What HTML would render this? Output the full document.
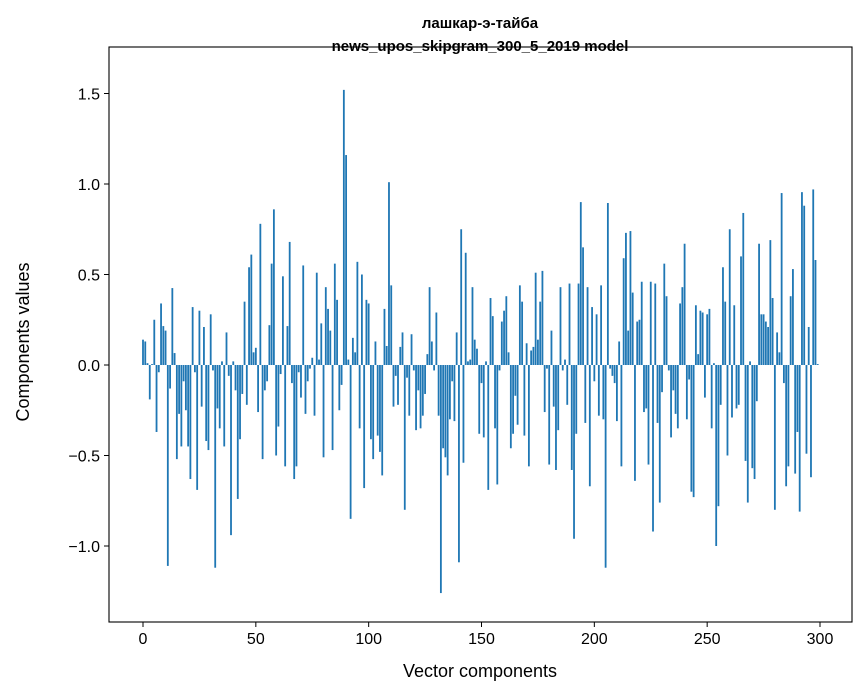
<!DOCTYPE html>
<html><head><meta charset="utf-8"><style>
html,body{margin:0;padding:0;background:#fff;}
svg{display:block;font-family:"Liberation Sans","DejaVu Sans",sans-serif;}
</style></head><body>
<svg id="chart" width="867" height="696" viewBox="0 0 867 696" xmlns="http://www.w3.org/2000/svg">
<rect width="867" height="696" fill="#fff"/>
<text x="480" y="28" text-anchor="middle" font-size="15" font-weight="bold">лашкар-э-тайба</text>
<text x="480" y="51" text-anchor="middle" font-size="15" font-weight="bold">news_upos_skipgram_300_5_2019 model</text>
<g id="bars"></g>
<g id="axes"></g>
<text x="480" y="677" text-anchor="middle" font-size="18">Vector components</text>
<text transform="translate(29,342) rotate(-90)" text-anchor="middle" font-size="18">Components values</text>
</svg>
<script>
const values = [
0.14,0.13,0.01,-0.19,0.005,0.25,-0.37,-0.04,0.34,0.215,0.19,-1.11,-0.13,0.425,0.066,-0.52,-0.27,-0.45,-0.09,-0.25,
-0.45,-0.63,0.32,-0.04,-0.69,0.30,-0.23,0.21,-0.42,-0.47,0.28,-0.03,-1.12,-0.24,-0.35,0.02,-0.45,0.18,-0.06,-0.94,
0.02,-0.14,-0.74,-0.41,-0.16,0.35,-0.22,0.54,0.61,0.07,0.095,-0.26,0.78,-0.52,-0.14,-0.09,0.22,0.56,0.86,-0.50,
-0.34,-0.05,0.49,-0.56,0.215,0.68,-0.10,-0.63,-0.56,-0.04,-0.18,0.55,-0.27,-0.09,-0.02,0.04,-0.28,0.51,0.03,0.23,
-0.51,0.43,0.31,0.19,-0.47,0.56,0.36,-0.25,-0.11,1.52,1.16,0.03,-0.85,0.15,0.07,0.57,-0.35,0.50,-0.68,0.36,
0.34,-0.41,-0.52,0.13,-0.39,-0.48,-0.61,0.31,0.105,1.01,0.44,-0.23,-0.06,-0.22,0.10,0.18,-0.80,-0.07,-0.28,0.17,
-0.03,-0.36,-0.14,-0.35,-0.28,-0.16,0.06,0.43,0.13,-0.03,0.29,-0.28,-1.26,-0.46,-0.51,-0.61,-0.30,-0.09,-0.31,0.18,
-1.09,0.75,-0.54,0.62,0.02,0.03,0.43,0.14,0.09,-0.38,-0.10,-0.40,0.02,-0.69,0.37,0.27,-0.35,-0.66,-0.03,0.24,
0.30,0.38,0.07,-0.46,-0.38,-0.17,-0.33,0.44,0.35,-0.39,0.12,-0.56,0.08,0.10,0.51,0.14,0.35,0.52,-0.26,-0.02,
-0.55,0.19,-0.23,-0.58,-0.36,0.43,-0.03,0.03,-0.22,0.45,-0.58,-0.96,-0.38,0.45,0.90,0.65,-0.32,0.43,-0.67,0.32,
-0.09,0.28,-0.28,0.44,-0.30,-1.12,0.895,-0.02,-0.06,-0.10,-0.31,0.13,-0.56,0.59,0.73,0.19,0.74,0.40,-0.64,0.24,
0.25,0.46,-0.26,-0.24,-0.55,0.46,-0.92,0.45,-0.32,-0.76,-0.15,0.56,0.38,-0.03,-0.40,-0.14,-0.27,-0.35,0.34,0.43,
0.67,-0.30,-0.08,-0.70,-0.73,0.33,0.06,0.30,0.29,-0.18,0.28,0.31,-0.35,0.01,-1.0,-0.78,-0.22,0.54,0.35,-0.50,
0.75,-0.29,0.33,-0.24,-0.22,0.60,0.84,-0.53,-0.76,0.02,-0.57,-0.63,-0.20,0.67,0.28,0.28,0.24,0.21,0.69,0.37,
-0.80,0.18,0.07,0.95,-0.10,-0.67,-0.56,0.38,0.53,-0.60,-0.37,-0.81,0.955,0.88,-0.49,0.21,-0.62,0.97,0.58,0.005
];
const xTicks = [0,50,100,150,200,250,300];
const yTicks = [-1.0,-0.5,0.0,0.5,1.0,1.5];
const yTickLabels = ["\u22121.0","\u22120.5","0.0","0.5","1.0","1.5"];

const NS = "http://www.w3.org/2000/svg";
const L = 109, R = 852, T = 47, B = 622;
const xScale = v => 143 + (820 - 143) * v / 300;
const yScale = v => 365 - 181 * v;
const bw = 0.8 * (xScale(1) - xScale(0));

const barsG = document.getElementById('bars');
values.forEach((v, i) => {
  const r = document.createElementNS(NS, 'rect');
  const y0 = yScale(0), y1 = yScale(v);
  r.setAttribute('x', xScale(i) - bw / 2);
  r.setAttribute('y', Math.min(y0, y1));
  r.setAttribute('width', bw);
  r.setAttribute('height', Math.max(Math.abs(y1 - y0), 0.3));
  r.setAttribute('fill', '#1f77b4');
  
  
  barsG.appendChild(r);
});

const axesG = document.getElementById('axes');
const frame = document.createElementNS(NS, 'rect');
frame.setAttribute('x', L); frame.setAttribute('y', T);
frame.setAttribute('width', R - L); frame.setAttribute('height', B - T);
frame.setAttribute('fill', 'none'); frame.setAttribute('stroke', '#000'); frame.setAttribute('stroke-width', '1.1');


axesG.appendChild(frame);

xTicks.forEach(t => {
  const x = xScale(t);
  const ln = document.createElementNS(NS, 'line');
  ln.setAttribute('x1', x); ln.setAttribute('x2', x);
  ln.setAttribute('y1', B); ln.setAttribute('y2', B + 5);
  ln.setAttribute('stroke', '#000');
  
  
  axesG.appendChild(ln);
  const tx = document.createElementNS(NS, 'text');
  tx.setAttribute('x', x); tx.setAttribute('y', B + 22);
  tx.setAttribute('text-anchor', 'middle'); tx.setAttribute('font-size', '16');
  tx.textContent = String(t);
  
  
  axesG.appendChild(tx);
});

yTicks.forEach((t, k) => {
  const y = yScale(t);
  const ln = document.createElementNS(NS, 'line');
  ln.setAttribute('x1', L - 5); ln.setAttribute('x2', L);
  ln.setAttribute('y1', y); ln.setAttribute('y2', y);
  ln.setAttribute('stroke', '#000');
  
  
  axesG.appendChild(ln);
  const tx = document.createElementNS(NS, 'text');
  tx.setAttribute('x', L - 9); tx.setAttribute('y', y + 6);
  tx.setAttribute('text-anchor', 'end'); tx.setAttribute('font-size', '16');
  tx.textContent = yTickLabels[k];
  
  
  axesG.appendChild(tx);
});
</script>
</body></html>
